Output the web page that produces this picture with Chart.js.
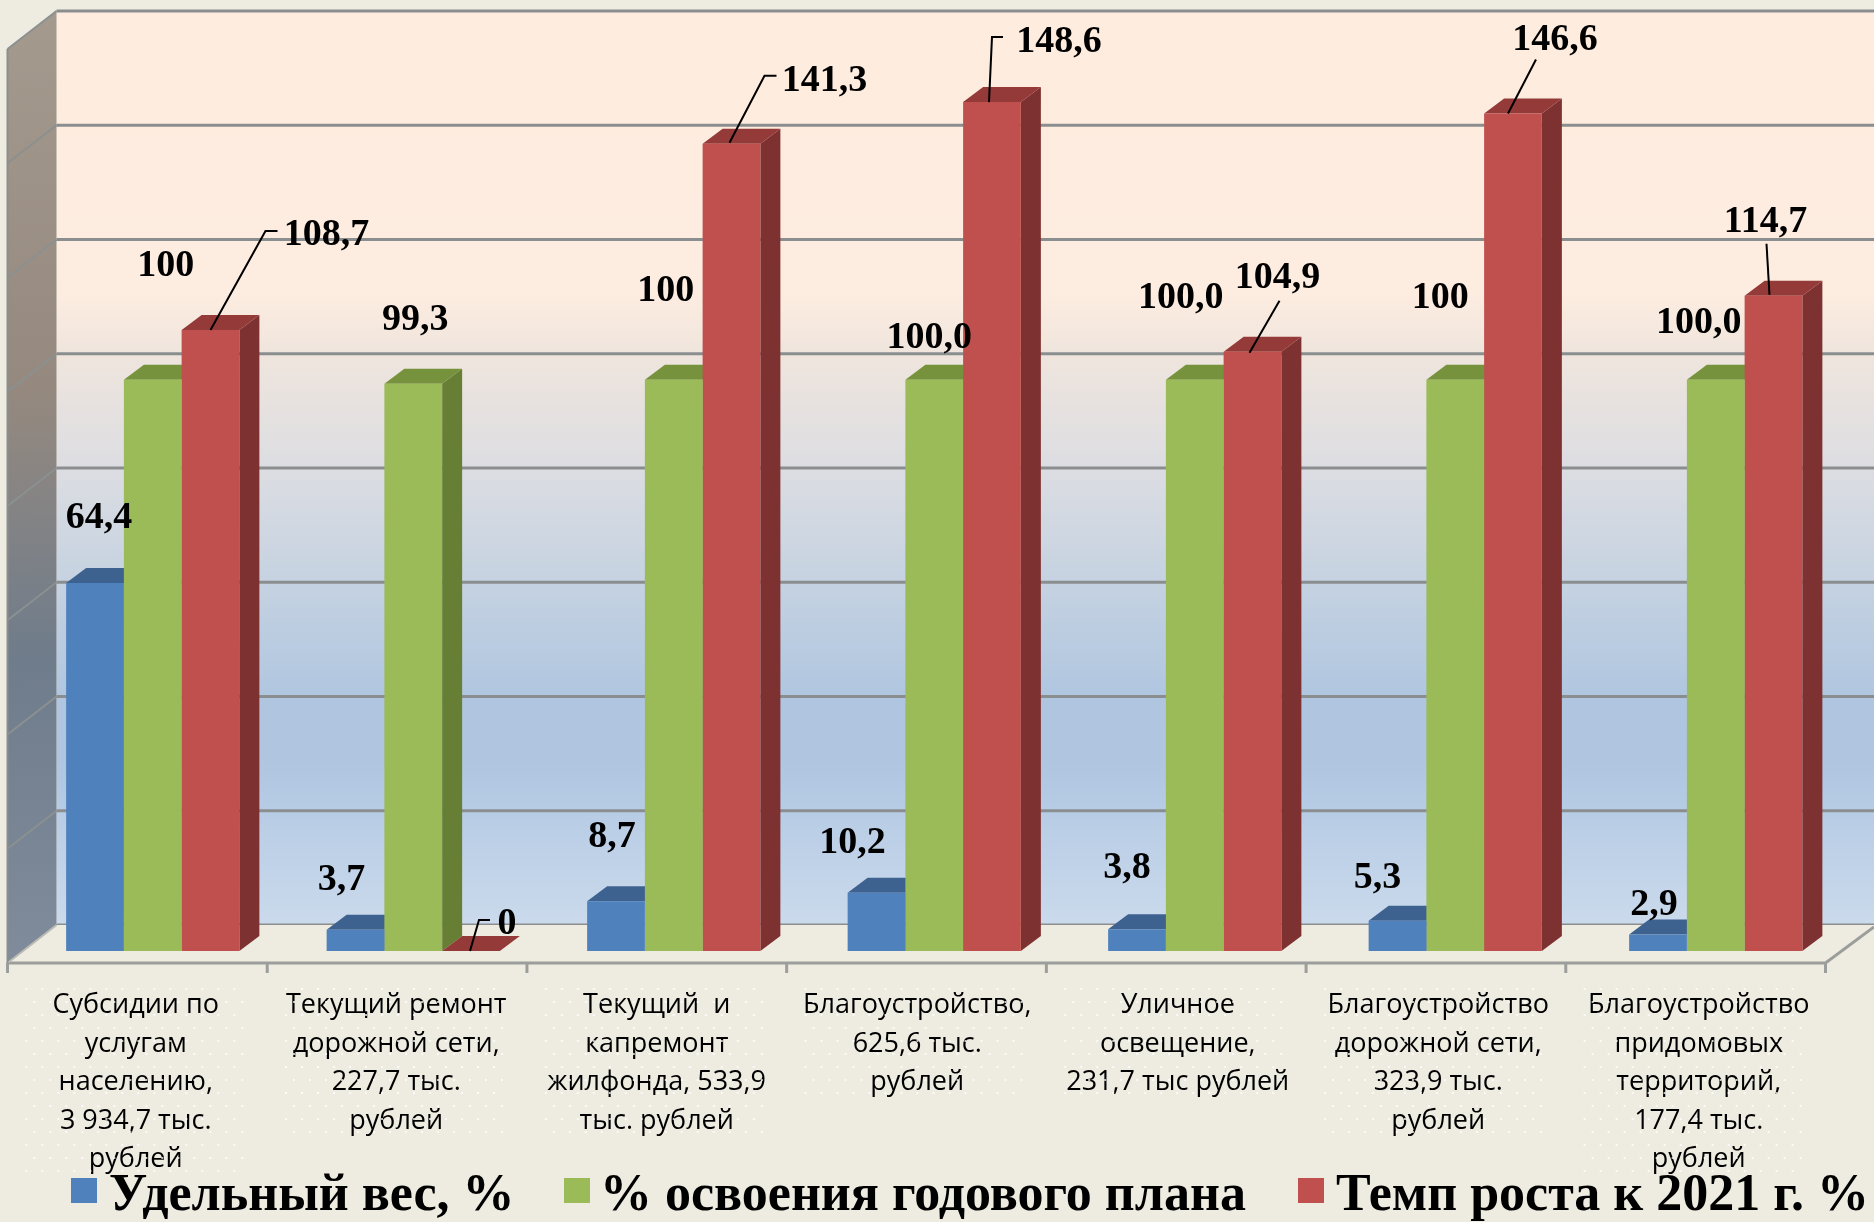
<!DOCTYPE html>
<html lang="ru">
<head>
<meta charset="utf-8">
<title>Освоение бюджета</title>
<script src="https://cdn.jsdelivr.net/npm/chart.js@4"></script>
<style>
    html, body { margin: 0; padding: 0; background: #eeece1; }
    canvas { display: block; }
</style>
</head>
<body>
<canvas id="mainChart" width="1874" height="1222"></canvas>
<script>
// --- data ---
const categories = [
    ['Субсидии по', 'услугам', 'населению,', '3 934,7 тыс.', 'рублей'],
    ['Текущий ремонт', 'дорожной сети,', '227,7 тыс.', 'рублей'],
    ['Текущий  и', 'капремонт', 'жилфонда, 533,9', 'тыс. рублей'],
    ['Благоустройство,', '625,6 тыс.', 'рублей'],
    ['Уличное', 'освещение,', '231,7 тыс рублей'],
    ['Благоустройство', 'дорожной сети,', '323,9 тыс.', 'рублей'],
    ['Благоустройство', 'придомовых', 'территорий,', '177,4 тыс.', 'рублей']
];
const seriesNames = ['Удельный вес, %', '% освоения годового плана', 'Темп роста к 2021 г. %'];
const shareValues = [64.4, 3.7, 8.7, 10.2, 3.8, 5.3, 2.9];
const planValues = [100, 99.3, 100, 100, 100, 100, 100];
const growthValues = [108.7, 0, 141.3, 148.6, 104.9, 146.6, 114.7];
const shareLabels = ['64,4', '3,7', '8,7', '10,2', '3,8', '5,3', '2,9'];
const planLabels = ['100', '99,3', '100', '100,0', '100,0', '100', '100,0'];
const growthLabels = ['108,7', '0', '141,3', '148,6', '104,9', '146,6', '114,7'];

// --- styling: where each hand-placed label sits relative to the top of its bar ---
const frontColors = ['#4f81bd', '#9bbb59', '#c0504d'];
const topColors = ['#3e628f', '#76923c', '#943a38'];
const sideColors = ['#3e628f', '#677e35', '#7d3130'];
const labelShift = [
    [[4, -65], [-14, -50], [-4, -64], [-24, -50], [-10, -61], [-20, -43], [-4, -29]],
    [[13, -114], [2, -64], [-8, -89], [-5, -42], [-14, -82], [-15, -82], [-17, -57]],
    [[116, -95], [36, -27], [93, -63], [67, -60], [25, -74], [42, -73], [-8, -74]]
];
const growthLeaders = [
    [[0, 0], [55, -99], [67, -99]],
    [[-1, 0], [8, -31], [19, -31]],
    [[-2, -1], [33, -68], [45, -68]],
    [[-3, 0], [0, -65], [11, -65]],
    [[-3, 1], [27, -51]],
    [[-5, 0], [23, -54]],
    [[-4, -1], [-7, -52]]
];
const legendBoxX = [71, 564, 1298];
const legendTextX = [109, 600, 1336];

const barDepth = [20, -15];     // depth of a bar
const wallShift = [34, -26];    // bar plane -> back wall
const frontShift = [-15, 12];   // bar plane -> front edge of the floor

// 3D box behind the chart: side wall, back wall, floor
const box3d = {
    id: 'box3d',
    beforeDatasetsDraw(chart) {
        const c = chart.ctx;
        const y = chart.scales.y;
        const area = chart.chartArea;
        const backX = area.left + wallShift[0];
        const frontX = area.left + frontShift[0];
        const frontRight = frontX + 1818;
        const backY = v => y.getPixelForValue(v) + wallShift[1];
        const frontY = v => y.getPixelForValue(v) + frontShift[1];
        const w = chart.width;

        const wall = c.createLinearGradient(0, backY(160), 0, backY(0));
        wall.addColorStop(0, '#feecde');
        wall.addColorStop(0.31, '#fdece0');
        wall.addColorStop(0.375, '#efe5dd');
        wall.addColorStop(0.5, '#dcdde2');
        wall.addColorStop(0.626, '#c5d2e1');
        wall.addColorStop(0.75, '#b0c6e0');
        wall.addColorStop(0.82, '#afc5e0');
        wall.addColorStop(0.875, '#b7cce5');
        wall.addColorStop(1, '#cbdaec');
        c.fillStyle = wall;
        c.fillRect(backX, backY(160), w - backX, backY(0) - backY(160));

        const side = c.createLinearGradient(0, backY(160), 40, backY(0) + 38);
        side.addColorStop(0, '#a59a8e');
        side.addColorStop(0.4, '#95897f');
        side.addColorStop(0.68, '#6f7c8b');
        side.addColorStop(1, '#808c9b');
        c.fillStyle = side;
        c.beginPath();
        c.moveTo(backX, backY(160));
        c.lineTo(backX, backY(0));
        c.lineTo(frontX, frontY(0));
        c.lineTo(frontX, frontY(160));
        c.closePath();
        c.fill();

        c.lineCap = 'butt';
        y.ticks.forEach(t => {
            c.strokeStyle = '#8b8e8e';
            c.lineWidth = 3;
            c.beginPath();
            c.moveTo(backX, backY(t.value));
            c.lineTo(w, backY(t.value));
            c.stroke();
            c.lineWidth = 2;
            c.strokeStyle = '#8b9090';
            c.beginPath();
            c.moveTo(backX, backY(t.value));
            c.lineTo(frontX, frontY(t.value));
            c.stroke();
        });

        // floor
        c.fillStyle = '#eeece1';
        c.beginPath();
        c.moveTo(backX, backY(0));
        c.lineTo(w, backY(0));
        c.lineTo(w, backY(0) + 2);
        c.lineTo(frontRight, frontY(0));
        c.lineTo(frontX, frontY(0));
        c.closePath();
        c.fill();
        c.strokeStyle = '#9c9e9c';
        c.lineWidth = 3;
        c.beginPath();
        c.moveTo(frontX, frontY(0));
        c.lineTo(frontRight, frontY(0));
        c.lineTo(w, backY(0) + 2);
        c.stroke();
        c.lineWidth = 2;
        c.strokeStyle = '#b9bab4';
        c.beginPath();
        c.moveTo(frontX, frontY(0));
        c.lineTo(backX, backY(0));
        c.stroke();
        c.strokeStyle = '#8b8e8e';
        c.beginPath();
        c.moveTo(frontX, frontY(0));
        c.lineTo(frontX, frontY(160));
        c.stroke();

        // tick marks and the dotted patch behind each category name
        const step = 1818 / categories.length;
        c.strokeStyle = '#9c9e9c';
        c.lineWidth = 3;
        for (let i = 0; i <= categories.length; i++) {
            const tx = frontX + i * step;
            c.beginPath();
            c.moveTo(tx, frontY(0));
            c.lineTo(tx, frontY(0) + 10);
            c.stroke();
        }
        c.fillStyle = 'rgba(255, 255, 255, 0.75)';
        categories.forEach((lines, i) => {
            const cx = frontX + (i + 0.5) * step;
            const bottom = 988 + lines.length * 38.6;
            let row = 0;
            for (let py = 988; py < bottom; py += 13) {
                for (let px = cx - 112 + (row % 2) * 8; px < cx + 112; px += 16) {
                    c.fillRect(px, py, 2, 2);
                }
                row++;
            }
        });

        // side and top faces, left to right; Chart.js paints the front faces over them
        const [dx, dy] = barDepth;
        categories.forEach((_, i) => {
            frontColors.forEach((_, s) => {
                const bar = chart.getDatasetMeta(s).data[i];
                const l = bar.x - bar.width / 2;
                const r = bar.x + bar.width / 2;
                c.fillStyle = sideColors[s];
                c.beginPath();
                c.moveTo(r, bar.y);
                c.lineTo(r + dx, bar.y + dy);
                c.lineTo(r + dx, bar.base + dy);
                c.lineTo(r, bar.base);
                c.closePath();
                c.fill();
                c.fillStyle = topColors[s];
                c.beginPath();
                c.moveTo(l, bar.y);
                c.lineTo(l + dx, bar.y + dy);
                c.lineTo(r + dx, bar.y + dy);
                c.lineTo(r, bar.y);
                c.closePath();
                c.fill();
            });
        });
    }
};

// value labels, leader lines and the legend go on top of everything
const overlays = {
    id: 'overlays',
    afterDraw(chart) {
        const c = chart.ctx;
        const texts = [shareLabels, planLabels, growthLabels];
        c.save();
        c.strokeStyle = '#000';
        c.lineWidth = 2;
        growthLeaders.forEach((pts, i) => {
            const bar = chart.getDatasetMeta(2).data[i];
            c.beginPath();
            pts.forEach((p, k) => {
                if (k === 0) c.moveTo(bar.x + p[0], bar.y + p[1]);
                else c.lineTo(bar.x + p[0], bar.y + p[1]);
            });
            c.stroke();
        });

        c.fillStyle = '#000';
        c.textAlign = 'center';
        c.textBaseline = 'middle';
        c.font = 'bold 38px "Liberation Serif"';
        texts.forEach((list, s) => {
            list.forEach((txt, i) => {
                const bar = chart.getDatasetMeta(s).data[i];
                const shift = labelShift[s][i];
                c.fillText(txt, bar.x + shift[0], bar.y + shift[1]);
            });
        });

        c.textAlign = 'left';
        c.font = 'bold 52px "Liberation Serif"';
        chart.data.datasets.forEach((ds, s) => {
            c.fillStyle = ds.backgroundColor;
            c.fillRect(legendBoxX[s], 1178, 26, 25);
            c.fillStyle = '#000';
            c.fillText(ds.label, legendTextX[s], 1197);
        });
        c.restore();
    }
};

new Chart(document.getElementById('mainChart'), {
    type: 'bar',
    data: {
        labels: categories,
        datasets: [
            { label: seriesNames[0], data: shareValues, backgroundColor: frontColors[0] },
            { label: seriesNames[1], data: planValues, backgroundColor: frontColors[1] },
            { label: seriesNames[2], data: growthValues, backgroundColor: frontColors[2] }
        ]
    },
    options: {
        responsive: false,
        animation: false,
        layout: { padding: { left: 22.5, right: 28, top: 37, bottom: 0 } },
        datasets: { bar: { barPercentage: 1, categoryPercentage: 0.665 } },
        plugins: { legend: { display: false }, tooltip: { enabled: false } },
        scales: {
            y: {
                min: 0,
                max: 160,
                ticks: { stepSize: 20, display: false },
                grid: { display: false },
                border: { display: false },
                afterFit(scale) { scale.width = 0; }
            },
            x: {
                grid: { display: false },
                border: { display: false },
                afterFit(scale) { scale.height = 271; },
                ticks: {
                    autoSkip: false,
                    maxRotation: 0,
                    padding: 27,
                    labelOffset: -17,
                    color: '#000',
                    font: { family: '"Open Sans"', size: 27, lineHeight: 1.43 }
                }
            }
        }
    },
    plugins: [box3d, overlays]
});
</script>
</body>
</html>
